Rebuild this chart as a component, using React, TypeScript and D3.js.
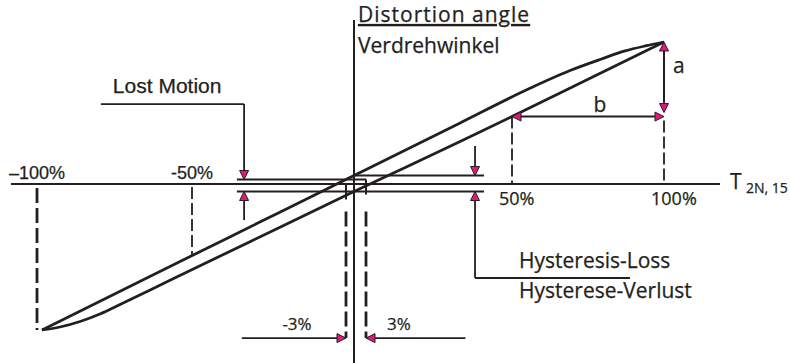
import React from "react";
import * as d3 from "d3";

// Torsional stiffness / hysteresis diagram: output torque (% of T2N) vs. distortion angle.
const torqueBreaks = [-100, -50, -3, 0, 3, 50, 100];
const axisTorqueExtent = [-108.4, 118.4];
const axisAngleExtent = [-12.6, 11.55];

// Loading branch: torque %, angle (arbitrary angle units)
const loadingBranch: [number, number][] = [
  [-98.4, -10.28], [-63.6, -6.51], [-29.3, -2.68], [0, 0.6], [33.3, 4.3],
  [55.9, 6.74], [69.1, 7.99], [79.0, 8.77], [87.2, 9.37], [93.8, 9.72], [100, 10],
];
// Unloading branch
const unloadingBranch: [number, number][] = [
  [-98.4, -10.28], [-92.6, -10.07], [-86.1, -9.68], [-79.7, -9.15], [-73.2, -8.48],
  [-57.1, -6.78], [-32.3, -4.06], [0, -0.53], [33.3, 2.99], [50, 4.75], [65.8, 6.41], [100, 10],
];

const peakAngle = 10;
const minAngle = -10.28;
const bAngle = 4.75;
const lostMotionTop = 0.32;
const lostMotionBottom = -0.53;
const hysteresisTop = 0.6;
const lostMotionLeaderT = -34.1;
const lostMotionLineStartT = -36.3;
const lostMotionLabelLeftT = -79.4;
const lostMotionLeaderTopAngle = 5.63;
const lostMotionLeaderBottomAngle = -2.54;
const hysteresisLeaderT = 38.1;
const hysteresisLineEndT = 41;
const hysteresisLeaderTopAngle = 2.68;
const hysteresisLeaderBottomAngle = -6.62;
const hysteresisLabelEndT = 88.8;
const slackArrowAngle = -10.85;
const slackArrowOuterT = [-34.8, 35.0];

const percentLabelsAbove = [
  { t: -100, label: "\u2013100%" },
  { t: -50, label: "-50%" },
];
const percentLabelsBelow = [
  { t: 50, label: "50%" },
  { t: 100, label: "100%" },
];

const W = 790;
const H = 363;
const INK = "#231f20";
const MAGENTA = "#e0177f";
const SANS_A = "'Liberation Sans', Arial, sans-serif";
const SANS_B = "'Open Sans', 'Noto Sans', sans-serif";

const x = d3.scaleLinear().domain(torqueBreaks).range([37, 192, 346, 354, 366, 512, 664]);
const y = d3.scaleLinear().domain([-10, 10]).range([326, 42]);

const line = d3
  .line<[number, number]>()
  .x((d) => x(d[0]))
  .y((d) => y(d[1]))
  .curve(d3.curveMonotoneX);

function ArrowHead({ px, py, dir }: { px: number; py: number; dir: "up" | "down" | "left" | "right" }) {
  const L = 9;
  const h = 4.5;
  let pts: number[][];
  if (dir === "down") pts = [[px, py], [px - h, py - L], [px + h, py - L]];
  else if (dir === "up") pts = [[px, py], [px - h, py + L], [px + h, py + L]];
  else if (dir === "left") pts = [[px, py], [px + L, py - h], [px + L, py + h]];
  else pts = [[px, py], [px - L, py - h], [px - L, py + h]];
  return (
    <polygon
      points={pts.map((p) => p.join(",")).join(" ")}
      fill={MAGENTA}
      stroke={INK}
      strokeWidth={1}
      strokeLinejoin="miter"
    />
  );
}

export default function App() {
  const y0 = y(0);
  const sorted = (arr: [number, number][]) => [...arr].sort((a, b) => a[0] - b[0]);
  const angleAt = (branch: [number, number][], t: number) => {
    const s = sorted(branch);
    return d3.scaleLinear().domain(s.map((d) => d[0])).range(s.map((d) => d[1]))(t);
  };
  const textInk = { fill: INK, stroke: INK, strokeWidth: 0.25 };

  return (
    <svg
      width={W}
      height={H}
      viewBox={`0 0 ${W} ${H}`}
      style={{ position: "absolute", left: 0, top: 0, background: "#fff" }}
    >
      <rect width={W} height={H} fill="#fff" />

      {/* axes */}
      <line x1={x(axisTorqueExtent[0])} x2={x(axisTorqueExtent[1])} y1={y0} y2={y0} stroke={INK} strokeWidth={2} />
      <line x1={x(0)} x2={x(0)} y1={y(axisAngleExtent[1])} y2={y(axisAngleExtent[0])} stroke={INK} strokeWidth={2} />

      {/* thick dashed guide at -100% */}
      <line x1={x(-100)} x2={x(-100)} y1={y0 + 4} y2={y(minAngle)} stroke={INK} strokeWidth={2.8} strokeDasharray="15 5" />
      {/* thin dashed guides */}
      <line x1={x(-50)} x2={x(-50)} y1={y0 + 3} y2={y(angleAt(loadingBranch, -50))} stroke={INK} strokeWidth={1.8} strokeDasharray="12 4" />
      <line x1={x(50)} x2={x(50)} y1={y(bAngle)} y2={y0} stroke={INK} strokeWidth={1.8} strokeDasharray="12 4" />
      <line x1={x(100)} x2={x(100)} y1={y(bAngle) + 4} y2={y0} stroke={INK} strokeWidth={1.8} strokeDasharray="12 4" />

      {/* hysteresis loop */}
      <path d={line(sorted(loadingBranch)) || ""} fill="none" stroke={INK} strokeWidth={2.8} strokeLinejoin="round" />
      <path d={line(sorted(unloadingBranch)) || ""} fill="none" stroke={INK} strokeWidth={2.8} strokeLinejoin="round" />

      {/* lost motion / hysteresis reference lines */}
      <line x1={x(lostMotionLineStartT)} x2={x(3)} y1={y(lostMotionTop)} y2={y(lostMotionTop)} stroke={INK} strokeWidth={2} />
      <line x1={x(lostMotionLineStartT)} x2={x(hysteresisLineEndT)} y1={y(lostMotionBottom)} y2={y(lostMotionBottom)} stroke={INK} strokeWidth={2} />
      <line x1={x(0)} x2={x(hysteresisLineEndT)} y1={y(hysteresisTop)} y2={y(hysteresisTop)} stroke={INK} strokeWidth={2} />

      {/* ±3% markers */}
      <line x1={x(-3)} x2={x(-3)} y1={y0} y2={y(lostMotionBottom) + 8} stroke={INK} strokeWidth={2} />
      <line x1={x(3)} x2={x(3)} y1={y(lostMotionTop)} y2={y(lostMotionBottom) + 3} stroke={INK} strokeWidth={2} />
      <line x1={x(-3)} x2={x(-3)} y1={y(lostMotionBottom) + 20} y2={y(slackArrowAngle)} stroke={INK} strokeWidth={2.8} strokeDasharray="15 5" />
      <line x1={x(3)} x2={x(3)} y1={y(lostMotionBottom) + 20} y2={y(slackArrowAngle)} stroke={INK} strokeWidth={2.8} strokeDasharray="15 5" />

      <line x1={x(slackArrowOuterT[0])} x2={x(-3)} y1={y(slackArrowAngle)} y2={y(slackArrowAngle)} stroke={INK} strokeWidth={1.8} />
      <line x1={x(3)} x2={x(slackArrowOuterT[1])} y1={y(slackArrowAngle)} y2={y(slackArrowAngle)} stroke={INK} strokeWidth={1.8} />
      <ArrowHead px={x(-3)} py={y(slackArrowAngle)} dir="right" />
      <ArrowHead px={x(3)} py={y(slackArrowAngle)} dir="left" />
      <text x={x(-3) - 49} y={y(slackArrowAngle) - 8} fontFamily={SANS_B} fontSize={17} {...textInk} textAnchor="middle">-3%</text>
      <text x={x(3) + 33} y={y(slackArrowAngle) - 8} fontFamily={SANS_B} fontSize={17} {...textInk} textAnchor="middle">3%</text>

      {/* Lost Motion leader */}
      <line x1={x(lostMotionLabelLeftT)} x2={x(lostMotionLeaderT)} y1={y(lostMotionLeaderTopAngle)} y2={y(lostMotionLeaderTopAngle)} stroke={INK} strokeWidth={1.8} />
      <line x1={x(lostMotionLeaderT)} x2={x(lostMotionLeaderT)} y1={y(lostMotionLeaderTopAngle)} y2={y(lostMotionTop) - 6} stroke={INK} strokeWidth={1.8} />
      <ArrowHead px={x(lostMotionLeaderT)} py={y(lostMotionTop)} dir="down" />
      <line x1={x(lostMotionLeaderT)} x2={x(lostMotionLeaderT)} y1={y(lostMotionBottom) + 6} y2={y(lostMotionLeaderBottomAngle)} stroke={INK} strokeWidth={1.8} />
      <ArrowHead px={x(lostMotionLeaderT)} py={y(lostMotionBottom)} dir="up" />
      <text x={x(lostMotionLabelLeftT) + 12} y={y(lostMotionLeaderTopAngle) - 11} fontFamily={SANS_A} fontSize={21} {...textInk}>Lost Motion</text>

      {/* Hysteresis leader */}
      <line x1={x(hysteresisLeaderT)} x2={x(hysteresisLeaderT)} y1={y(hysteresisLeaderTopAngle)} y2={y(hysteresisTop) - 6} stroke={INK} strokeWidth={1.8} />
      <ArrowHead px={x(hysteresisLeaderT)} py={y(hysteresisTop)} dir="down" />
      <line x1={x(hysteresisLeaderT)} x2={x(hysteresisLeaderT)} y1={y(lostMotionBottom) + 6} y2={y(hysteresisLeaderBottomAngle)} stroke={INK} strokeWidth={1.8} />
      <ArrowHead px={x(hysteresisLeaderT)} py={y(lostMotionBottom)} dir="up" />
      <line x1={x(hysteresisLeaderT)} x2={x(hysteresisLabelEndT)} y1={y(hysteresisLeaderBottomAngle)} y2={y(hysteresisLeaderBottomAngle)} stroke={INK} strokeWidth={1.8} />
      <text x={x(hysteresisLeaderT) + 44} y={y(hysteresisLeaderBottomAngle) - 10} fontFamily={SANS_B} fontSize={21} {...textInk}>Hysteresis-Loss</text>
      <text x={x(hysteresisLeaderT) + 44} y={y(hysteresisLeaderBottomAngle) + 20} fontFamily={SANS_B} fontSize={21} {...textInk}>Hysterese-Verlust</text>

      {/* a and b dimensions */}
      <line x1={x(100)} x2={x(100)} y1={y(peakAngle) + 6} y2={y(bAngle) - 8} stroke={INK} strokeWidth={2} />
      <ArrowHead px={x(100)} py={y(peakAngle)} dir="up" />
      <ArrowHead px={x(100)} py={y(bAngle) - 4} dir="down" />
      <text x={x(100) + 9} y={y((peakAngle + bAngle) / 2) - 6} fontFamily={SANS_B} fontSize={21} {...textInk}>a</text>

      <line x1={x(50) + 6} x2={x(100) - 6} y1={y(bAngle)} y2={y(bAngle)} stroke={INK} strokeWidth={2} />
      <ArrowHead px={x(50)} py={y(bAngle)} dir="left" />
      <ArrowHead px={x(100)} py={y(bAngle)} dir="right" />
      <text x={(x(50) + x(100)) / 2 + 12} y={y(bAngle) - 5} fontFamily={SANS_B} fontSize={21} {...textInk} textAnchor="middle">b</text>

      {/* axis labels */}
      {percentLabelsAbove.map((d) => (
        <text key={d.label} x={x(d.t)} y={y0 - 5} fontFamily={SANS_A} fontSize={18} {...textInk} textAnchor="middle">{d.label}</text>
      ))}
      {percentLabelsBelow.map((d) => (
        <text key={d.label} x={x(d.t) - 13} y={y0 + 21} fontFamily={SANS_B} fontSize={18} {...textInk}>{d.label}</text>
      ))}
      <text x={x(axisTorqueExtent[1]) + 10} y={y0 + 5} fontFamily={SANS_B} fontSize={21} {...textInk}>T</text>
      <text x={x(axisTorqueExtent[1]) + 26} y={y0 + 9} fontFamily={SANS_B} fontSize={14} {...textInk}>2N, 15</text>

      {/* vertical axis title */}
      <text x={x(0) + 4} y={22} fontFamily={SANS_B} fontSize={21} letterSpacing={1} {...textInk} style={{ textDecoration: "underline" }}>Distortion angle</text>
      <text x={x(0) + 4} y={53} fontFamily={SANS_B} fontSize={21} {...textInk}>Verdrehwinkel</text>
    </svg>
  );
}
